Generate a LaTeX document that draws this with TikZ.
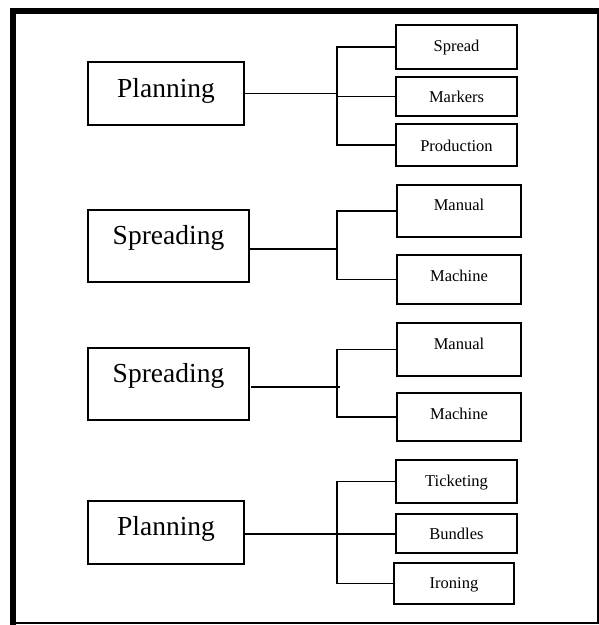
\documentclass[tikz,border=0pt]{standalone}
\usepackage{fontspec}
\setmainfont{Liberation Serif}
\begin{document}
\begin{tikzpicture}[x=1pt,y=-1pt,
  bigbox/.style={draw,line width=2pt,inner sep=0pt,outer sep=0pt,align=center,
    font=\fontsize{27.5}{30}\selectfont},
  smallbox/.style={draw,line width=2pt,inner sep=0pt,outer sep=0pt,align=center,
    font=\fontsize{16.5}{18}\selectfont},
  conn/.style={line width=1.9pt},
  frame/.style={line width=6pt}]
\useasboundingbox (0,0) rectangle (599,625);
% frame
\draw[frame] (10,11) -- (599,11);
\draw[frame] (13,8) -- (13,625);
\draw[line width=2pt] (13,622.5) -- (599,622.5);
\draw[line width=2pt] (597.5,11) -- (597.5,622.5);

% group 1
\node[bigbox,text width=156pt,text height=35pt,text depth=28pt,anchor=north west] (P1) at (88,62) {Planning};
\node[smallbox,text width=121pt,text height=26pt,text depth=18pt,anchor=north west] (Sp) at (396,25) {Spread};
\node[smallbox,text width=121pt,text height=25pt,text depth=14pt,anchor=north west] (Mk) at (396,77) {Markers};
\node[smallbox,text width=121pt,text height=27pt,text depth=15pt,anchor=north west] (Pr) at (396,124) {Production};
\coordinate (b1) at (337,0);
\draw[conn] (P1.east) -- (P1.east -| b1);
\draw[conn] (Sp.west) -| (b1 |- Pr.west) -- (Pr.west);
\draw[conn] (Mk.west) -- (Mk.west -| b1);

% group 2
\node[bigbox,text width=161pt,text height=34pt,text depth=38pt,anchor=north west] (S1) at (88,210) {Spreading};
\node[smallbox,text width=124pt,text height=25pt,text depth=27pt,anchor=north west] (Ma1) at (397,185) {Manual};
\node[smallbox,text width=124pt,text height=26pt,text depth=23pt,anchor=north west] (Mc1) at (397,255) {Machine};
\coordinate (b2) at (337,0);
\draw[conn] ([yshift=-3pt]S1.east) -- ([yshift=-3pt]S1.east -| b2);
\draw[conn] (Ma1.west) -| (b2 |- Mc1.west) -- (Mc1.west);

% group 3
\node[bigbox,text width=161pt,text height=34pt,text depth=38pt,anchor=north west] (S2) at (88,348) {Spreading};
\node[smallbox,text width=124pt,text height=26pt,text depth=27pt,anchor=north west] (Ma2) at (397,323) {Manual};
\node[smallbox,text width=124pt,text height=26pt,text depth=22pt,anchor=north west] (Mc2) at (397,393) {Machine};
\coordinate (b3) at (337,0);
\coordinate (b3e) at (340,0);
\draw[conn] ([xshift=2pt,yshift=-3pt]S2.east) -- ([yshift=-3pt]S2.east -| b3e);
\draw[conn] (Ma2.west) -| (b3 |- Mc2.west) -- (Mc2.west);

% group 4
\node[bigbox,text width=156pt,text height=34pt,text depth=29pt,anchor=north west] (P2) at (88,501) {Planning};
\node[smallbox,text width=121pt,text height=26pt,text depth=17pt,anchor=north west] (Tk) at (396,460) {Ticketing};
\node[smallbox,text width=121pt,text height=25pt,text depth=14pt,anchor=north west] (Bd) at (396,514) {Bundles};
\node[smallbox,text width=120pt,text height=25pt,text depth=16pt,anchor=north west] (Ir) at (394,563) {Ironing};
\coordinate (b4) at (337,0);
\draw[conn] ([yshift=-1.5pt]P2.east) -- ([yshift=-1.5pt]P2.east -| Bd.west);
\draw[conn] (Tk.west) -| (b4 |- Ir.west) -- (Ir.west);
\end{tikzpicture}
\end{document}
